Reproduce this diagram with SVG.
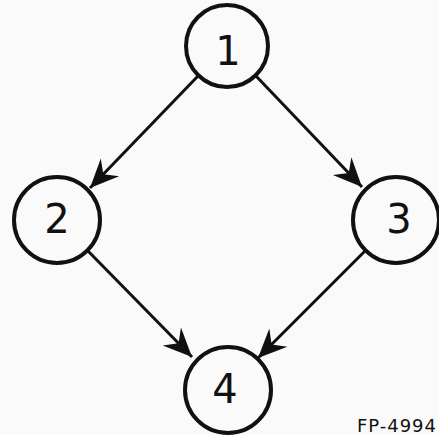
<svg xmlns="http://www.w3.org/2000/svg" width="439" height="435" viewBox="0 0 439 435">
<style>
.node circle{fill:none;stroke:#111;stroke-width:4}
.node text{font-family:"DejaVu Sans",sans-serif;font-size:40px;fill:#111;text-anchor:middle}
.edge{stroke:#111;stroke-width:3;fill:none;marker-end:url(#ah)}
.lbl{font-family:"DejaVu Sans",sans-serif;font-size:18px;fill:#111;letter-spacing:1px;text-anchor:end}
</style>
<defs>
<marker id="ah" markerUnits="userSpaceOnUse" markerWidth="32" markerHeight="32" viewBox="-28 -14 30 28" refX="0" refY="0" orient="auto">
<path d="M0,0 L-27,-12 L-18,0 L-27,12 Z" fill="#111"/>
</marker>
</defs>
<rect width="439" height="435" fill="#fafafa"/>
<g id="connectors">
<line class="edge" x1="198" y1="76" x2="90" y2="188"/>
<line class="edge" x1="256" y1="76" x2="362" y2="187"/>
<line class="edge" x1="88" y1="251" x2="192" y2="357"/>
<line class="edge" x1="365" y1="251" x2="258" y2="358"/>
</g>
<g id="n1" class="node"><circle cx="227" cy="46" r="41"/><text x="228" y="65">1</text></g>
<g id="n2" class="node"><circle cx="57" cy="220" r="43"/><text x="57" y="233">2</text></g>
<g id="n3" class="node"><circle cx="396" cy="220" r="43"/><text x="399" y="233">3</text></g>
<g id="n4" class="node"><circle cx="228" cy="390" r="43"/><text x="225" y="403">4</text></g>
<text class="lbl" x="437" y="432">FP-4994</text>
</svg>
